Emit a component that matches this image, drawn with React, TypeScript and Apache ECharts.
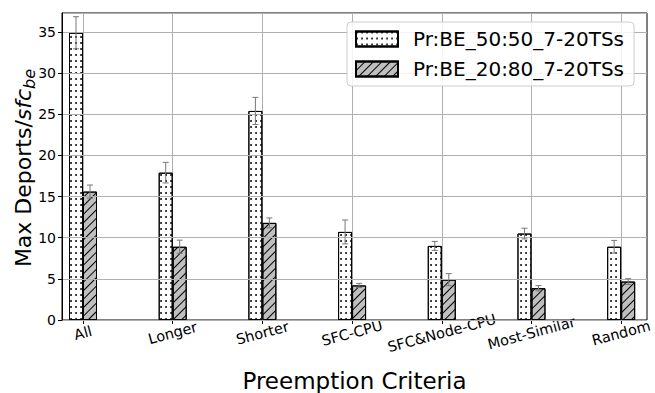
import React, { useEffect, useRef } from "react";
import * as echarts from "echarts";

const categories = ["All", "Longer", "Shorter", "SFC-CPU", "SFC&Node-CPU", "Most-Similar", "Random"];
const seriesNames = ["Pr:BE_50:50_7-20TSs", "Pr:BE_20:80_7-20TSs"];
const values5050 = [34.9, 17.9, 25.4, 10.7, 9.0, 10.5, 8.9];
const errors5050 = [1.95, 1.25, 1.65, 1.45, 0.55, 0.65, 0.77];
const values2080 = [15.6, 8.9, 11.8, 4.2, 4.9, 3.86, 4.67];
const errors2080 = [0.8, 0.8, 0.6, 0.25, 0.73, 0.32, 0.35];

const FONT = "DejaVu Sans";
const LABEL_SIZE = 14.5;

function measure(text: string, size: number): number {
  const c = document.createElement("canvas").getContext("2d");
  if (!c) return text.length * size * 0.6;
  c.font = `${size}px '${FONT}'`;
  return c.measureText(text).width;
}

export default function App() {
  const ref = useRef<HTMLDivElement>(null);
  useEffect(() => {
    if (!ref.current) return;
    const chart = echarts.init(ref.current, undefined, { renderer: "svg" });
    const yMax = 37.3;
    const sin15 = Math.sin((15 * Math.PI) / 180);
    const catData = categories.map((c) => {
      const L = measure(c, LABEL_SIZE);
      const p = Math.round(L * sin15);
      return {
        value: c,
        textStyle: { align: "center", verticalAlign: "middle", padding: [p, 0, 0, 0] },
      };
    });
    const errData = (vals: number[], errs: number[]) =>
      vals.map((v, i) => [i, v - errs[i], v + errs[i]]);
    const errSeries = (data: number[][], offset: number) => ({
      type: "custom",
      xAxisIndex: 1,
      yAxisIndex: 1,
      z: 10,
      silent: true,
      data,
      renderItem: (params: any, api: any) => {
        const x = api.coord([api.value(0), 0])[0] + offset;
        const lo = api.coord([api.value(0), api.value(1)])[1];
        const hi = api.coord([api.value(0), api.value(2)])[1];
        const st = { stroke: "#777777", lineWidth: 1 };
        return {
          type: "group",
          children: [
            { type: "line", shape: { x1: x, y1: lo, x2: x, y2: hi }, style: st },
            { type: "line", shape: { x1: x - 3, y1: lo, x2: x + 3, y2: lo }, style: st },
            { type: "line", shape: { x1: x - 3, y1: hi, x2: x + 3, y2: hi }, style: st },
          ],
        };
      },
    });
    chart.setOption({
      animation: false,
      textStyle: { fontFamily: FONT },
      grid: [
        { left: 62, right: 8, top: 13, bottom: 73, show: true, borderColor: "#000", borderWidth: 1, backgroundColor: "transparent" },
        { left: 83, right: 28.3, top: 13, bottom: 73 },
      ],
      legend: {
        left: 347,
        top: 22,
        orient: "vertical",
        itemWidth: 42,
        itemHeight: 15,
        itemGap: 10,
        padding: [7, 10, 7, 8],
        borderColor: "#cccccc",
        borderWidth: 1,
        borderRadius: 4,
        backgroundColor: "rgba(255,255,255,0.85)",
        icon: "rect",
        textStyle: { fontSize: 20, color: "#000", fontFamily: FONT, padding: [0, 0, 0, 10] },
        data: seriesNames,
      },
      xAxis: [
        { type: "value", gridIndex: 0, min: 0, max: 1, show: false },
        {
          type: "category",
          gridIndex: 1,
          data: catData,
          boundaryGap: false,
          axisLine: { show: false },
          axisTick: { show: true, length: 4, lineStyle: { color: "#000" } },
          axisLabel: { rotate: 15, align: "center", verticalAlign: "middle", fontSize: LABEL_SIZE, color: "#000", margin: 13, fontFamily: FONT },
          splitLine: { show: true, lineStyle: { color: "#b0b0b0", width: 1 } },
        },
      ],
      yAxis: [
        {
          type: "value",
          gridIndex: 0,
          min: 0,
          max: yMax,
          interval: 5,
          z: 3,
          axisLine: { show: true, lineStyle: { color: "#000" } },
          axisTick: { show: true, length: 4, lineStyle: { color: "#000" } },
          axisLabel: { fontSize: 14, color: "#000", margin: 6, fontFamily: FONT, showMaxLabel: false },
          splitLine: { show: true, lineStyle: { color: "#b0b0b0", width: 1 } },
        },
        { type: "value", gridIndex: 1, min: 0, max: yMax, show: false, splitLine: { show: false } },
      ],
      series: [
        {
          name: seriesNames[0],
          type: "bar",
          xAxisIndex: 1,
          yAxisIndex: 1,
          barWidth: 14,
          barGap: "0%",
          data: values5050,
          itemStyle: {
            color: "#ffffff",
            borderColor: "#000",
            borderWidth: 1,
            decal: {
              symbol: "circle",
              symbolSize: 0.9,
              color: "#000",
              dashArrayX: [1.6, 3.0],
              dashArrayY: [1.6, 3.6],
            },
          },
        },
        {
          name: seriesNames[1],
          type: "bar",
          xAxisIndex: 1,
          yAxisIndex: 1,
          barWidth: 14,
          barGap: "0%",
          data: values2080,
          itemStyle: {
            color: "#bfbfbf",
            borderColor: "#000",
            borderWidth: 1,
            decal: {
              symbol: "rect",
              symbolSize: 1,
              color: "#000",
              dashArrayX: [1, 0],
              dashArrayY: [1, 5],
              rotation: -Math.PI / 4,
            },
          },
        },
        errSeries(errData(values5050, errors5050), -7),
        errSeries(errData(values2080, errors2080), 7),
      ],
      graphic: [
        {
          type: "text",
          x: 354.5,
          y: 381,
          style: { text: "Preemption Criteria", fontSize: 23, fontFamily: FONT, fill: "#000", align: "center", verticalAlign: "middle" },
        },
        {
          type: "text",
          x: 23,
          y: 168,
          rotation: Math.PI / 2,
          style: {
            text: "{a|Max Deports/}{i|sfc}{s|be}",
            align: "center",
            verticalAlign: "middle",
            fill: "#000",
            rich: {
              a: { fontSize: 22, fontFamily: FONT, lineHeight: 28 },
              i: { fontSize: 22, fontFamily: FONT, fontStyle: "italic", lineHeight: 28 },
              s: { fontSize: 16, fontFamily: FONT, fontStyle: "italic", verticalAlign: "bottom", lineHeight: 28 },
            },
          },
        },
      ],
    });
    return () => chart.dispose();
  }, []);
  return <div ref={ref} style={{ width: 655, height: 393, position: "absolute", left: 0, top: 0 }} />;
}
